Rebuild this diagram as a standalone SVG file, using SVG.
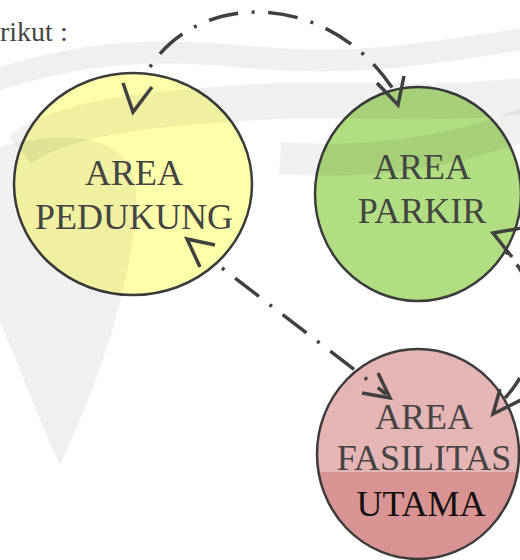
<svg xmlns="http://www.w3.org/2000/svg" width="520" height="560" viewBox="0 0 520 560">
  <style>
    .node-outline { stroke: #3c3c3c; stroke-width: 2.5; }
    .label { font-family: "Liberation Serif", "Times New Roman", serif; font-size: 36px; fill: #444444; text-anchor: middle; }
    .conn { fill: none; stroke: #404040; stroke-width: 3.5; stroke-dasharray: 3 13.5 30 13.5; }
    .head { fill: none; stroke: #404040; stroke-width: 3.5; stroke-linecap: butt; stroke-linejoin: miter; }
    .wm { fill: none; stroke: #000000; stroke-opacity: 0.06; }
    .wmf { fill: #000000; fill-opacity: 0.06; stroke: none; }
  </style>
  <defs>
    <clipPath id="redLower">
      <rect x="300" y="472" width="230" height="100"/>
    </clipPath>
  </defs>
  <rect x="0" y="0" width="520" height="560" fill="#ffffff"/>

  <text x="0" y="41" font-family="Liberation Serif, serif" font-size="28" fill="#444444">rikut :</text>

  <g id="node-pedukung">
    <ellipse cx="133" cy="184" rx="119" ry="111" fill="#ffffaa" class="node-outline"/>
  </g>
  <g id="node-parkir">
    <ellipse cx="418" cy="194" rx="103" ry="107" fill="#b0de80" class="node-outline"/>
  </g>
  <g id="node-fasilitas">
    <ellipse cx="418" cy="454" rx="101" ry="105" fill="#e5b5b4"/>
    <ellipse cx="418" cy="454" rx="101" ry="105" fill="#d99393" clip-path="url(#redLower)"/>
    <ellipse cx="418" cy="454" rx="101" ry="105" fill="none" class="node-outline"/>
  </g>

  <g id="watermark">
    <path class="wm" stroke-width="22" d="M -10,82 C 80,52 150,47 250,57 S 420,55 530,38"/>
    <path class="wm" stroke-width="36" d="M 20,150 C 60,118 150,108 260,102 S 420,108 530,95"/>
    <path class="wm" stroke-width="32" d="M 280,158 C 380,165 460,150 530,122"/>
    <path class="wmf" d="M -10,150 C 60,128 140,130 136,200 C 134,280 100,380 60,465 C 30,400 10,340 -10,300 Z"/>
  </g>

  <g id="node-labels">
    <text class="label" x="134" y="185">AREA</text>
    <text class="label" x="134" y="229">PEDUKUNG</text>
    <text class="label" x="422" y="179">AREA</text>
    <text class="label" x="422" y="223">PARKIR</text>
    <text class="label" x="424" y="429">AREA</text>
    <text class="label" x="424" y="470">FASILITAS</text>
    <text class="label" x="421" y="516" style="fill:#111111">UTAMA</text>
  </g>

  <g id="connectors">
    <path class="conn" d="M 150,67 C 200,-10 330,-10 395,92"/>
    <polyline class="head" points="123,83 133,112 152,87"/>
    <polyline class="head" points="377,83 398,105 404,76"/>

    <path class="conn" d="M 222,268 L 386,394"/>
    <polyline class="head" points="215,245 187,239 200,267"/>
    <polyline class="head" points="378,373 390,398 362,393"/>

    <path class="conn" d="M 506,252 C 545,290 545,355 505,398"/>
    <polyline class="head" points="512,257 493,233 522,228"/>
    <polyline class="head" points="500,389 493,414 521,400"/>
  </g>
</svg>
